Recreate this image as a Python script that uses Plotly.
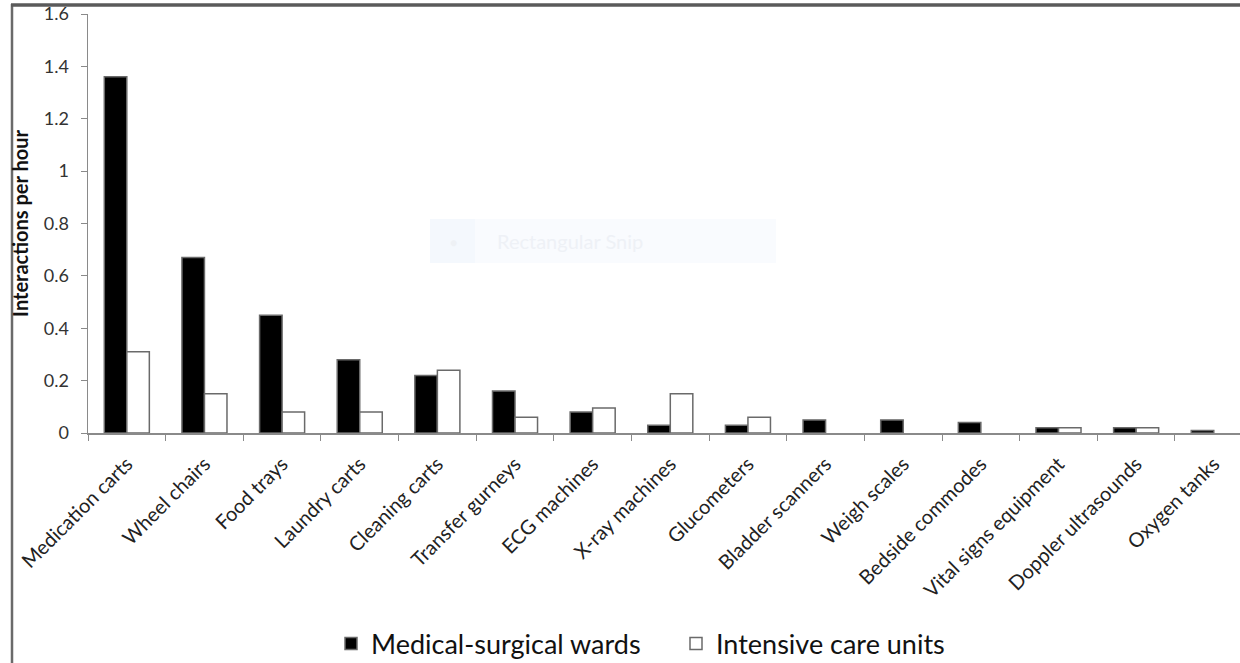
import plotly.graph_objects as go

categories = ["Medication carts", "Wheel chairs", "Food trays", "Laundry carts",
              "Cleaning carts", "Transfer gurneys", "ECG machines", "X-ray machines",
              "Glucometers", "Bladder scanners", "Weigh scales", "Bedside commodes",
              "Vital signs equipment", "Doppler ultrasounds", "Oxygen tanks"]
med_surg = [1.36, 0.67, 0.45, 0.28, 0.22, 0.16, 0.08, 0.03, 0.03, 0.05, 0.05, 0.04, 0.02, 0.02, 0.01]
icu = [0.31, 0.15, 0.08, 0.08, 0.24, 0.06, 0.095, 0.15, 0.06, 0, 0, 0, 0.02, 0.02, 0]
y_ticks = [0, 0.2, 0.4, 0.6, 0.8, 1.0, 1.2, 1.4, 1.6]
y_tick_text = ["0", "0.2", "0.4", "0.6", "0.8", "1", "1.2", "1.4", "1.6"]

FONT = "Lato"
W, H = 1240, 663
L, R, T, B = 88, 0, 14, 230
pw, ph = W - L - R, H - T - B

def px(x):
    return (x - L) / pw

def py(y):
    return (H - B - y) / ph

def outline_widths(vals, w=1.5):
    return [w if v else 0 for v in vals]

fig = go.Figure()
fig.add_trace(go.Bar(x=categories, y=med_surg, name="Medical-surgical wards",
                     marker=dict(color="#000000",
                                 line=dict(color="#6a6a6a", width=outline_widths(med_surg)))))
fig.add_trace(go.Bar(x=categories, y=icu, name="Intensive care units",
                     marker=dict(color="#ffffff",
                                 line=dict(color="#6a6a6a", width=outline_widths(icu)))))

cat_w = 77.64
x_end = -0.5 + pw / cat_w

fig.update_layout(
    width=W, height=H,
    margin=dict(l=L, r=R, t=T, b=B, autoexpand=False),
    paper_bgcolor="white", plot_bgcolor="white",
    barmode="group", bargap=0.42, bargroupgap=0,
    font=dict(family=FONT, color="#222222"),
    showlegend=True,
    legend=dict(orientation="h", x=px(331), xanchor="left", y=py(644), yanchor="middle",
                font=dict(size=27, family=FONT, color="#111111"),
                entrywidth=300, entrywidthmode="pixels",
                bgcolor="rgba(0,0,0,0)", traceorder="normal"),
    xaxis=dict(range=[-0.5, x_end], showline=True, linecolor="#8a8a8a", linewidth=1.5,
               ticks="outside", ticklen=6, tickcolor="#8a8a8a", tickson="boundaries",
               tickangle=-45, ticklabelstandoff=10,
               tickfont=dict(size=20, family=FONT, color="#222222"),
               showgrid=False, zeroline=False, fixedrange=True),
    yaxis=dict(range=[0, 1.6], showline=True, linecolor="#8a8a8a", linewidth=1.5,
               ticks="outside", ticklen=6, tickcolor="#8a8a8a",
               tickvals=y_ticks, ticktext=y_tick_text, ticklabelstandoff=8,
               tickfont=dict(size=18, family=FONT, color="#333333"),
               showgrid=False, zeroline=False,
               title=dict(text="<b>Interactions per hour</b>", standoff=10,
                          font=dict(size=20, family=FONT, color="#111111"))),
    shapes=[
        dict(type="line", xref="paper", yref="paper", x0=px(12), x1=px(12), y0=py(4), y1=py(663),
             line=dict(color="#6a6a6a", width=2.5)),
        dict(type="line", xref="paper", yref="paper", x0=px(11), x1=px(1240), y0=py(5), y1=py(5),
             line=dict(color="#5a5a5a", width=3.5)),
        dict(type="rect", xref="paper", yref="paper", x0=px(430), x1=px(776), y0=py(263), y1=py(219),
             fillcolor="#f9fbfe", line=dict(width=0), layer="below"),
        dict(type="rect", xref="paper", yref="paper", x0=px(430), x1=px(475), y0=py(263), y1=py(219),
             fillcolor="#f4f8fd", line=dict(width=0), layer="below"),
    ],
    annotations=[
        dict(text="Rectangular Snip", xref="paper", yref="paper", x=px(495), y=py(241),
             xanchor="left", yanchor="middle", showarrow=False,
             font=dict(size=20, family=FONT, color="#eef1f6")),
        dict(text="●", xref="paper", yref="paper", x=px(453), y=py(242),
             xanchor="center", yanchor="middle", showarrow=False,
             font=dict(size=12, family=FONT, color="#eef1f5")),
    ],
)

fig.write_html("out.html", config={"displayModeBar": False, "staticPlot": True},
               post_script="document.body.style.margin='0';document.body.style.padding='0';")
